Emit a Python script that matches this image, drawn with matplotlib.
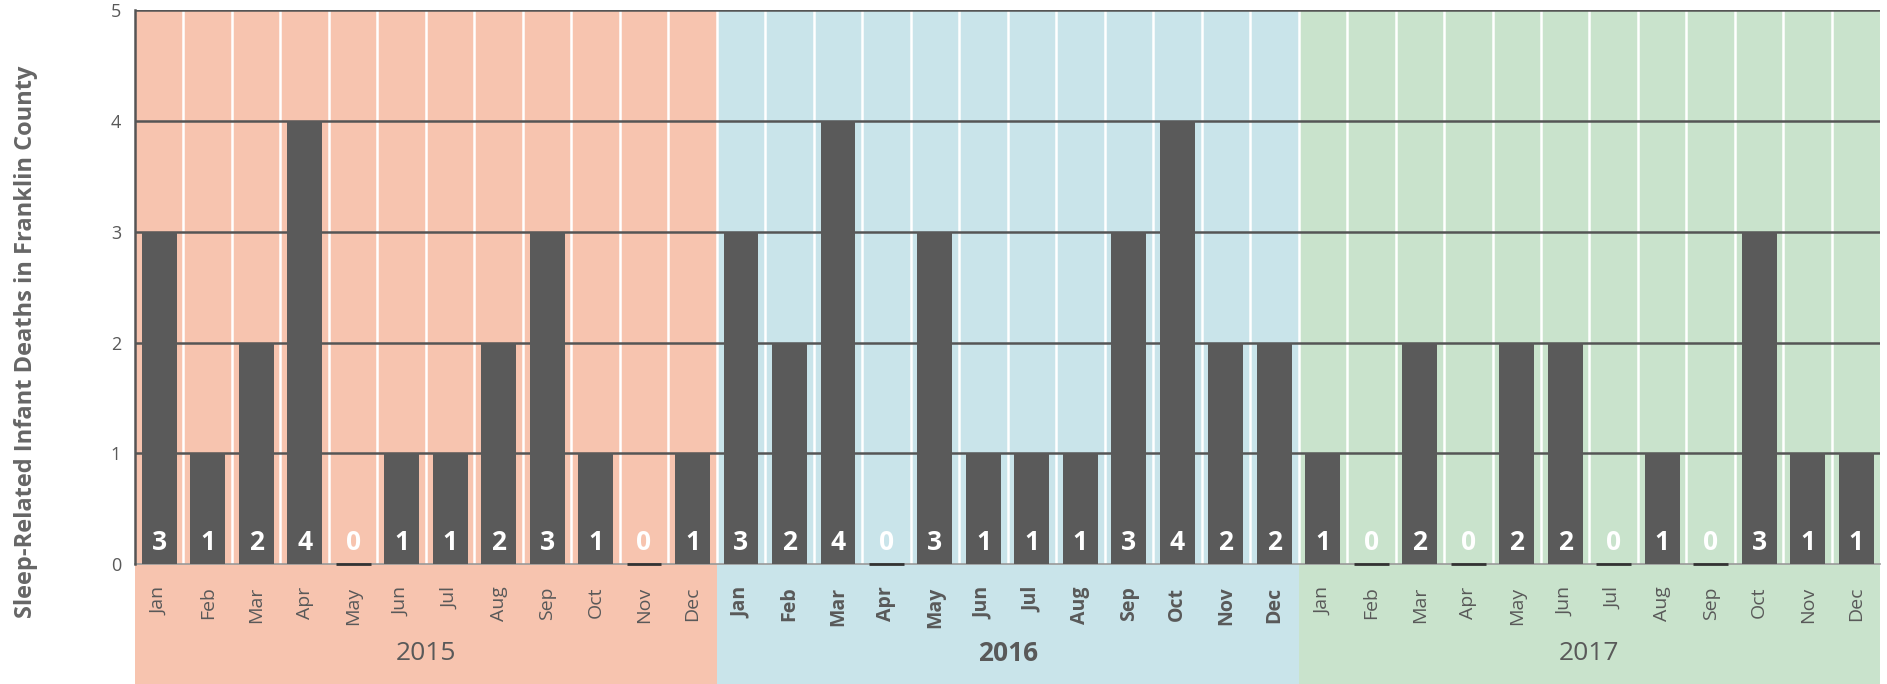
import numpy as np
import matplotlib
matplotlib.use('Agg')
import matplotlib.pyplot as plt
import matplotlib.transforms as mtransforms
from matplotlib.patches import Rectangle

plt.rcParams['font.family'] = ['Open Sans', 'DejaVu Sans']

# data
years = ['2015', '2016', '2017']
months = ['Jan', 'Feb', 'Mar', 'Apr', 'May', 'Jun', 'Jul', 'Aug', 'Sep', 'Oct', 'Nov', 'Dec']
deaths_2015 = [3, 1, 2, 4, 0, 1, 1, 2, 3, 1, 0, 1]
deaths_2016 = [3, 2, 4, 0, 3, 1, 1, 1, 3, 4, 2, 2]
deaths_2017 = [1, 0, 2, 0, 2, 2, 0, 1, 0, 3, 1, 1]
year_colors = ['#f7c4af', '#c9e4ea', '#c9e3cc']
bold_year = '2016'

values = deaths_2015 + deaths_2016 + deaths_2017
x = np.arange(len(values))
text_gray = '#595959'
bar_color = '#5a5a5a'
bar_width = 0.72

fig = plt.figure(figsize=(18.87, 6.84), dpi=100)
ax = fig.add_axes([0.0715, 0.175, 0.925, 0.81])
ax.patch.set_facecolor('none')

# year background bands, extended down to the bottom of the figure
trans = mtransforms.blended_transform_factory(ax.transData, fig.transFigure)
for i, yr in enumerate(years):
    x0 = i * 12 - 0.5
    rect = Rectangle((x0, 0), 12, 0.985, transform=trans, facecolor=year_colors[i],
                     edgecolor='none', zorder=0, clip_on=False)
    ax.add_patch(rect)
    ax.text(x0 + 6, 0.045, yr, transform=trans, ha='center', va='center',
            fontsize=19, color=text_gray,
            fontweight='bold' if yr == bold_year else 'normal')

# white month separators
for b in x[1:]:
    ax.axvline(b - 0.5, color='white', lw=1.8, zorder=1)

# grid lines
for g in range(1, 6):
    ax.axhline(g, color='#555555', lw=1.8, zorder=2)

ax.bar(x, values, width=bar_width, color=bar_color, zorder=3)

# thin dark mark on the baseline for zero months
zero_x = [xi for xi, v in zip(x, values) if v == 0]
ax.hlines([0] * len(zero_x), np.array(zero_x) - bar_width / 2,
          np.array(zero_x) + bar_width / 2, color='#333333', lw=2, zorder=6,
          clip_on=False)

for xi, v in zip(x, values):
    ax.text(xi, 0.2, str(v), ha='center', va='center', color='white',
            fontsize=19, fontweight='bold', zorder=4)

ax.set_xlim(-0.5, len(values) - 0.5)
ax.set_ylim(0, 5)
ax.set_yticks(range(6))
ax.tick_params(axis='y', length=0, labelsize=13, labelcolor=text_gray, pad=10)
ax.set_xticks(x)
ax.set_xticklabels(months * 3, rotation=90, fontsize=14, color=text_gray)
ax.tick_params(axis='x', length=0, pad=16)
for i, lab in enumerate(ax.get_xticklabels()):
    if years[i // 12] == bold_year:
        lab.set_fontweight('bold')

for s in ['top', 'right']:
    ax.spines[s].set_visible(False)
ax.spines['left'].set_color('#555555')
ax.spines['left'].set_linewidth(1.8)
ax.spines['bottom'].set_color('#999999')
ax.spines['bottom'].set_linewidth(1.2)
ax.spines['left'].set_zorder(5)

fig.text(0.014, 0.5, 'Sleep-Related Infant Deaths in Franklin County', rotation=90,
         ha='center', va='center', fontsize=17, fontweight='bold', color='#666666')

fig.savefig('out.png', dpi=100)
